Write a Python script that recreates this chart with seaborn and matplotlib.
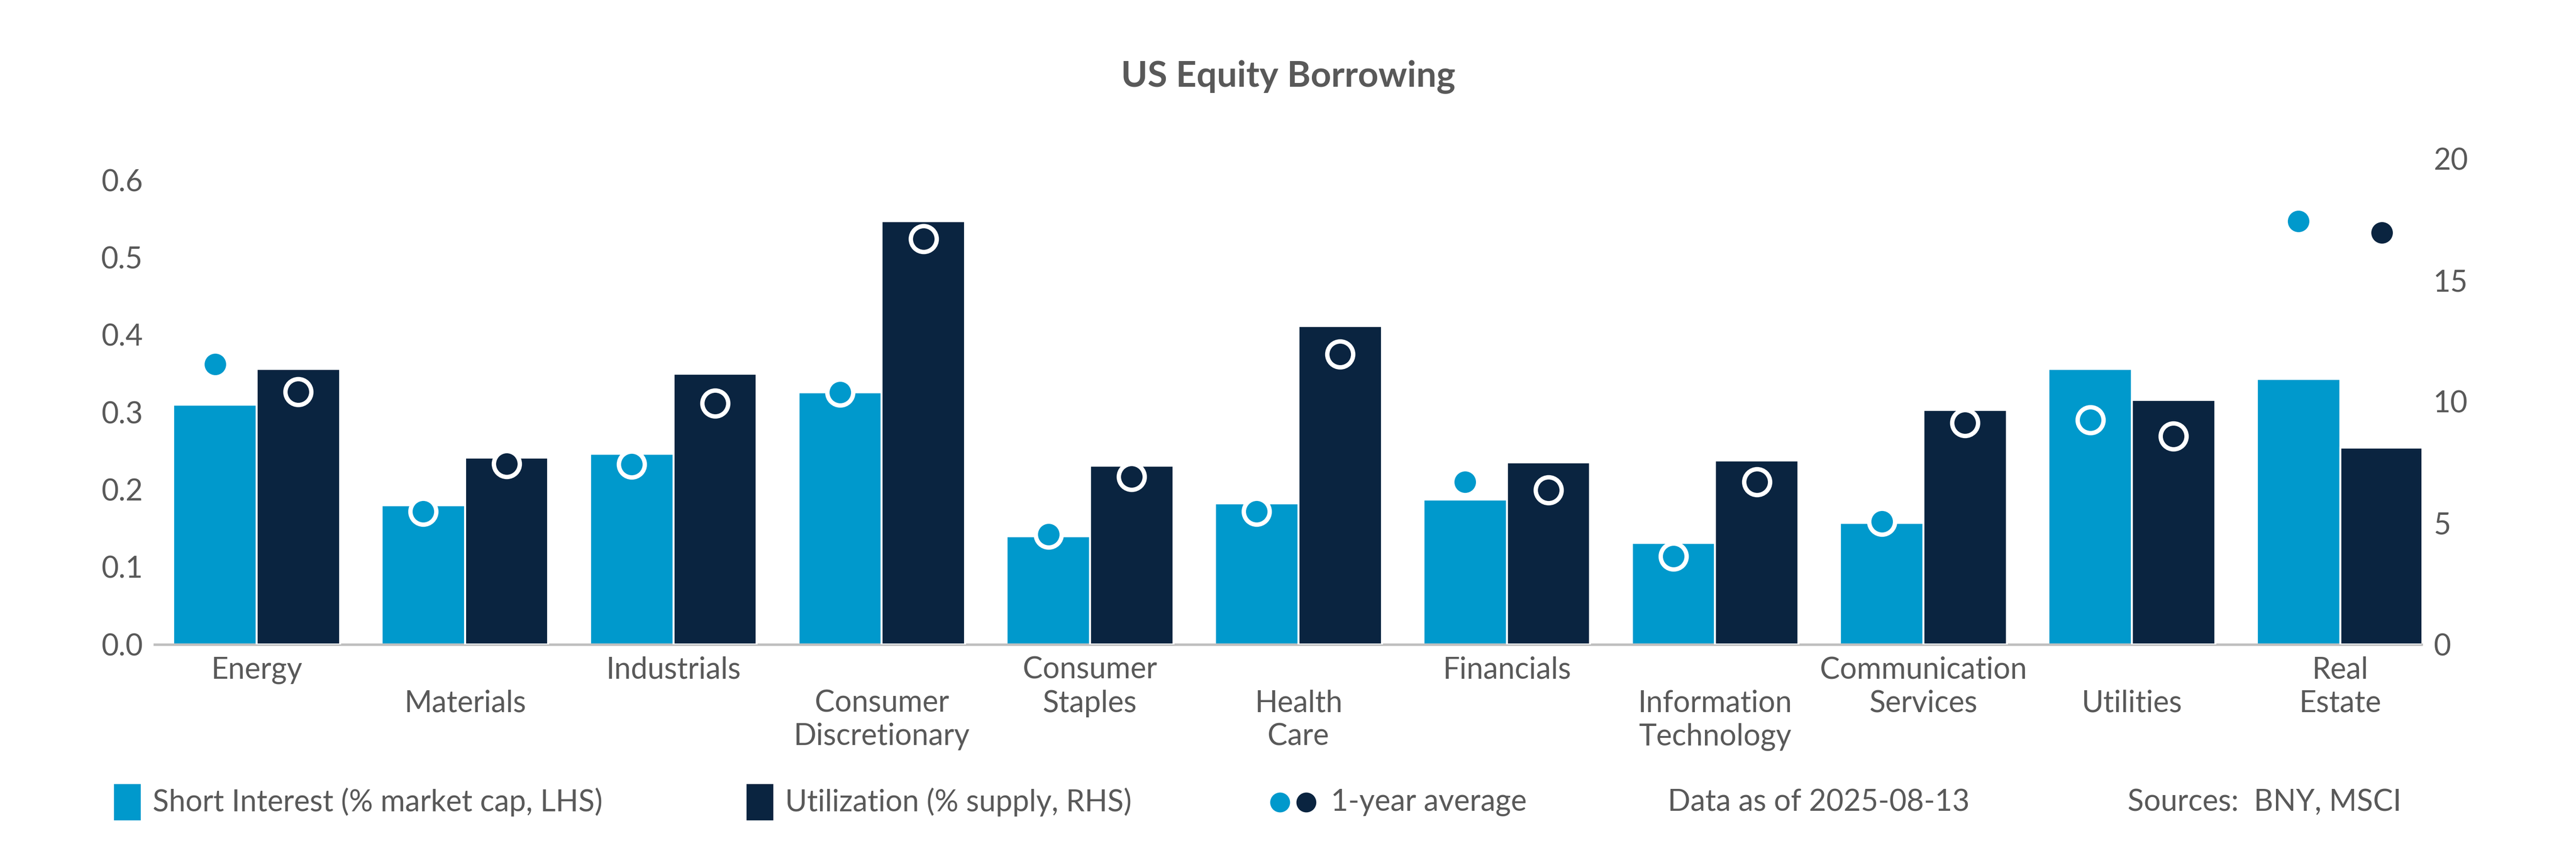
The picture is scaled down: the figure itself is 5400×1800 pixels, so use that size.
import numpy as np
import pandas as pd
import matplotlib.pyplot as plt
import seaborn as sns
from matplotlib.patches import Rectangle
from matplotlib.lines import Line2D

sns.set_theme(style="white", font="Lato")

LIGHT = "#0099CC"
DARK = "#0A2440"
GREY = "#595959"

sectors = ["Energy", "\nMaterials", "Industrials", "\nConsumer\nDiscretionary",
           "Consumer\nStaples", "\nHealth\nCare", "Financials", "\nInformation\nTechnology",
           "Communication\nServices", "\nUtilities", "Real\nEstate"]
short_interest = [0.31, 0.18, 0.246, 0.326, 0.14, 0.182, 0.187, 0.131, 0.157, 0.356, 0.343]
short_interest_avg = [0.362, 0.172, 0.233, 0.326, 0.142, 0.172, 0.21, 0.114, 0.159, 0.29, 0.547]
utilization = [11.35, 7.7, 11.15, 17.43, 7.36, 13.1, 7.5, 7.57, 9.66, 10.07, 8.1]
utilization_avg = [10.4, 7.43, 9.93, 16.7, 6.9, 11.96, 6.35, 6.7, 9.12, 8.58, 16.96]

pos = np.arange(len(sectors))
df = pd.DataFrame({"x_si": pos - 0.2, "x_ut": pos + 0.2,
                   "si": short_interest, "si_avg": short_interest_avg,
                   "ut": utilization, "ut_avg": utilization_avg})

fig = plt.figure(figsize=(18, 6), dpi=300)
ax = fig.add_axes([0.06, 0.249, 0.88, 0.566])
ax2 = ax.twinx()

sns.barplot(data=df, x="x_si", y="si", native_scale=True, width=0.4,
            color=LIGHT, saturation=1, ax=ax)
sns.barplot(data=df, x="x_ut", y="ut", native_scale=True, width=0.4,
            color=DARK, saturation=1, ax=ax2)
sns.scatterplot(data=df, x="x_si", y="si_avg", color=LIGHT, s=170,
                edgecolor="white", linewidth=2.2, zorder=5, ax=ax)
sns.scatterplot(data=df, x="x_ut", y="ut_avg", color=DARK, s=170,
                edgecolor="white", linewidth=2.2, zorder=5, ax=ax2)

ax.set_xlim(-0.49, 10.39)
ax.set_ylim(0, 0.6 * 296 / 283)
ax.set_yticks(np.arange(0, 0.61, 0.1))
ax.set_yticklabels([f"{v:.1f}" for v in np.arange(0, 0.61, 0.1)])
ax2.set_ylim(0, 20)
ax2.set_yticks([0, 5, 10, 15, 20])
ax.set_xticks(pos)
ax.set_xticklabels(sectors, linespacing=1.25)
for a in (ax, ax2):
    a.set_xlabel("")
    a.set_ylabel("")
    a.tick_params(length=0, labelsize=15, colors=GREY, pad=6)
    for s in a.spines.values():
        s.set_visible(False)
ax.spines["bottom"].set_visible(True)
ax.spines["bottom"].set_color("#BFBFBF")

fig.suptitle("US Equity Borrowing", y=0.93, fontsize=18, fontweight="bold", color=GREY)

# legend row
W = 1568
ly = 0.045
fig.patches.append(Rectangle((70 / W, ly), 15 / W, 0.04, transform=fig.transFigure,
                             color=LIGHT, figure=fig))
fig.text(93 / W, ly + 0.02, "Short Interest (% market cap, LHS)", va="center",
         fontsize=15, color=GREY)
fig.patches.append(Rectangle((455 / W, ly), 15 / W, 0.04, transform=fig.transFigure,
                             color=DARK, figure=fig))
fig.text(478 / W, ly + 0.02, "Utilization (% supply, RHS)", va="center",
         fontsize=15, color=GREY)
for xx, c in ((779, LIGHT), (795, DARK)):
    fig.lines.append(Line2D([xx / W], [ly + 0.02], marker="o", markersize=9, color=c,
                            transform=fig.transFigure, figure=fig))
fig.text(810 / W, ly + 0.02, "1-year average", va="center", fontsize=15, color=GREY)
fig.text(1015 / W, ly + 0.02, "Data as of 2025-08-13", va="center", fontsize=15, color=GREY)
fig.text(1295 / W, ly + 0.02, "Sources:  BNY, MSCI", va="center", fontsize=15, color=GREY)

fig.savefig("out.png")
